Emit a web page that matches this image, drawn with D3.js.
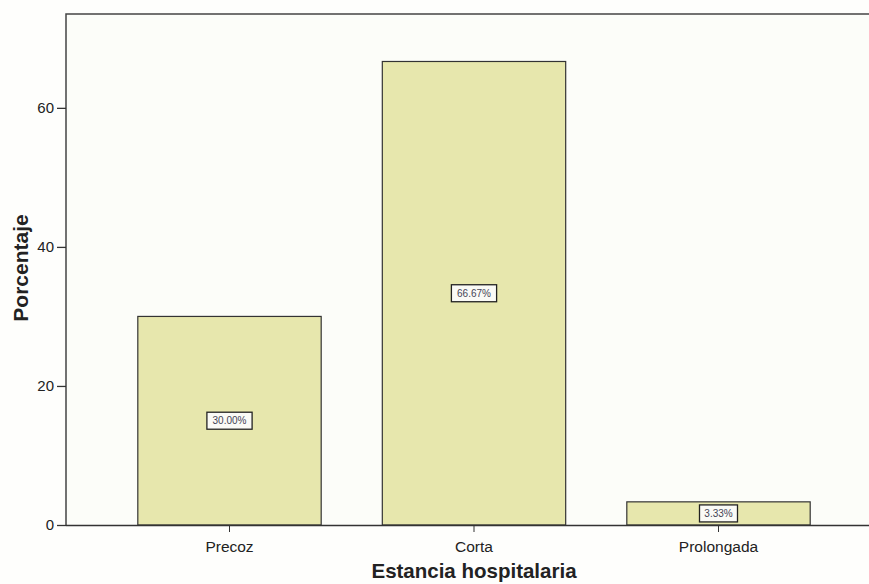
<!DOCTYPE html>
<html>
<head>
<meta charset="utf-8">
<script src="https://cdn.jsdelivr.net/npm/d3@7"></script>
<style>
  html, body { margin: 0; padding: 0; background: #fefefc; }
  svg { display: block; }
</style>
</head>
<body>
<svg id="chart" width="869" height="584"></svg>
<script>
// Hospital stay categories and their percentages
const categories = ["Precoz", "Corta", "Prolongada"];
const percentages = [30.00, 66.67, 3.33];
const valueLabels = ["30.00%", "66.67%", "3.33%"];
const yTicks = [0, 20, 40, 60];

const svg = d3.select("#chart");
const plot = { left: 66, top: 14, right: 869, bottom: 525 };
const FONT = "Liberation Sans, Arial, sans-serif";

const x = d3.scaleBand()
  .domain(categories)
  .range([107.25, 840.75])
  .paddingInner(0.25)
  .paddingOuter(0.125);

const y = d3.scaleLinear()
  .domain([0, 73.5])
  .range([plot.bottom, plot.top]);

// plot background and frame (left and top)
svg.append("rect")
  .attr("x", plot.left).attr("y", plot.top)
  .attr("width", plot.right - plot.left).attr("height", plot.bottom - plot.top)
  .attr("fill", "#fcfdf9");
svg.append("path")
  .attr("d", `M${plot.left},${plot.bottom} V${plot.top} H${plot.right}`)
  .attr("fill", "none")
  .attr("stroke", "#444")
  .attr("stroke-width", 1.5);

// bars
const data = categories.map((c, i) => ({ c, v: percentages[i], label: valueLabels[i] }));
svg.append("g").selectAll("rect")
  .data(data)
  .join("rect")
  .attr("x", d => x(d.c))
  .attr("y", d => y(d.v))
  .attr("width", x.bandwidth())
  .attr("height", d => y(0) - y(d.v))
  .attr("fill", "#e7e7ad")
  .attr("stroke", "#333")
  .attr("stroke-width", 1.2);

// value labels in boxes at the middle of each bar
const lab = svg.append("g").selectAll("g")
  .data(data)
  .join("g")
  .attr("transform", d => `translate(${x(d.c) + x.bandwidth() / 2},${(y(d.v) + y(0)) / 2})`);
lab.append("rect")
  .attr("x", d => -(d.label.length * 3.6 + 1))
  .attr("y", -8.5)
  .attr("width", d => 2 * (d.label.length * 3.6 + 1))
  .attr("height", 17)
  .attr("fill", "#fafaf6")
  .attr("stroke", "#222")
  .attr("stroke-width", 1.3);
lab.append("text")
  .attr("text-anchor", "middle")
  .attr("dy", "0.35em")
  .attr("font-family", FONT)
  .attr("font-size", 10)
  .attr("fill", "#445")
  .text(d => d.label);

// x axis
const xAxis = svg.append("g")
  .attr("transform", `translate(0,${plot.bottom})`)
  .call(d3.axisBottom(x).tickSize(7).tickSizeOuter(0));
xAxis.select(".domain").attr("d", `M${plot.left},0.5H${plot.right}`).attr("stroke", "#333").attr("stroke-width", 1.5);
xAxis.selectAll(".tick line").attr("stroke", "#333");
xAxis.selectAll(".tick text")
  .attr("y", 16)
  .attr("font-family", FONT)
  .attr("font-size", 15.5)
  .attr("fill", "#222");

// y axis
const yAxis = svg.append("g")
  .attr("transform", `translate(${plot.left},0)`)
  .call(d3.axisLeft(y).tickValues(yTicks).tickSize(9).tickSizeOuter(0));
yAxis.select(".domain").remove();
yAxis.selectAll(".tick line").attr("stroke", "#333").attr("stroke-width", 1.3);
yAxis.selectAll(".tick text")
  .attr("x", -12)
  .attr("font-family", FONT)
  .attr("font-size", 15)
  .attr("fill", "#222");

// axis titles
svg.append("text")
  .attr("x", (x.range()[0] + x.range()[1]) / 2)
  .attr("y", 578)
  .attr("text-anchor", "middle")
  .attr("font-family", FONT)
  .attr("font-weight", "bold")
  .attr("font-size", 20.5)
  .attr("fill", "#222")
  .text("Estancia hospitalaria");

svg.append("text")
  .attr("transform", "translate(28,268) rotate(-90)")
  .attr("text-anchor", "middle")
  .attr("font-family", FONT)
  .attr("font-weight", "bold")
  .attr("font-size", 21)
  .attr("fill", "#222")
  .text("Porcentaje");
</script>
</body>
</html>
